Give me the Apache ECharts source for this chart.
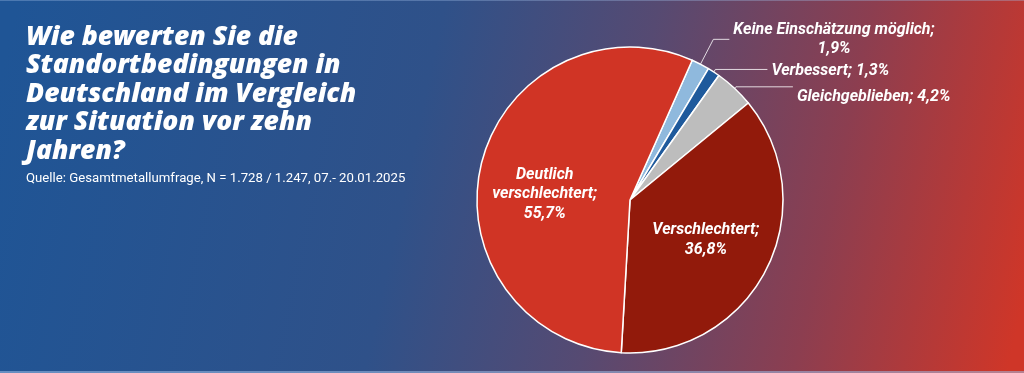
<!DOCTYPE html>
<html>
<head>
<meta charset="utf-8">
<script src="https://cdn.jsdelivr.net/npm/echarts@6/dist/echarts.min.js"></script>
<style>
html,body{margin:0;padding:0;width:1024px;height:373px;overflow:hidden;}
#c{width:1024px;height:373px;}
</style>
</head>
<body>
<div id="c"></div>
<script>
const titleText = 'Wie bewerten Sie die\nStandortbedingungen in\nDeutschland im Vergleich\nzur Situation vor zehn\nJahren?';
const sourceText = 'Quelle: Gesamtmetallumfrage, N = 1.728 / 1.247, 07.- 20.01.2025';
const categories = ['Keine Einschätzung möglich', 'Verbessert', 'Gleichgeblieben', 'Verschlechtert', 'Deutlich verschlechtert'];
const values = [1.9, 1.3, 4.2, 36.8, 55.7];
const colors = ['#8fb9dd', '#1f5a9c', '#bdbdbd', '#921a0b', '#d03425'];

const fmt = v => v.toFixed(1).replace('.', ',') + '%';
const labelFont = {color:'#fff', fontFamily:'Roboto', fontWeight:'bold', fontStyle:'italic', fontSize:16, lineHeight:19.5};

const itemLabel = [
  {position:'outside', formatter: p => '{c|' + p.name + ';}\n{c|' + fmt(p.value) + '}', lineLen:[28,16], dy:0},
  {position:'outside', formatter: p => p.name + '; ' + fmt(p.value), lineLen:[3,52], dy:2},
  {position:'outside', formatter: p => p.name + '; ' + fmt(p.value), lineLen:[2,57], dy:10},
  {position:'inside', formatter: p => p.name + ';\n' + fmt(p.value), offset:[5,4]},
  {position:'inside', formatter: 'Deutlich\nverschlechtert;\n' + fmt(values[4]), offset:[-8,13]}
];

const data = categories.map((c, i) => {
  const L = itemLabel[i];
  const d = {name:c, value:values[i], itemStyle:{color:colors[i]}};
  if (L.position === 'outside') {
    d.label = Object.assign({show:true, position:'outside', formatter:L.formatter, distanceToLabelLine:4,
      rich:{c:Object.assign({align:'center'}, labelFont)}}, labelFont);
    d.labelLine = {show:true, length:L.lineLen[0], length2:L.lineLen[1], lineStyle:{color:'rgba(255,255,255,0.8)', width:1}};
  } else {
    d.label = Object.assign({show:true, position:'inside', formatter:L.formatter, align:'center', offset:L.offset}, labelFont);
    d.labelLine = {show:false};
  }
  return d;
});

const chart = echarts.init(document.getElementById('c'), null, {renderer:'canvas'});
chart.setOption({
  backgroundColor: {type:'linear', x:0, y:0.2, x2:1, y2:0.8, colorStops:[
    {offset:0, color:'#1f5596'},
    {offset:0.4, color:'#2f5189'},
    {offset:0.6, color:'#564a72'},
    {offset:0.8, color:'#8c3e50'},
    {offset:1, color:'#cf3628'}
  ]},
  title: [
    {text:titleText, left:21, top:18, textStyle:{color:'#fff', fontFamily:'Open Sans', fontWeight:800, fontStyle:'italic', fontSize:26.5, lineHeight:28.5}},
    {text:sourceText, left:21, top:167, textStyle:{color:'#fff', fontFamily:'Roboto', fontWeight:'normal', fontSize:13.2}}
  ],
  graphic: [
    {type:'rect', left:0, bottom:0, shape:{width:1024, height:2}, style:{fill:'rgba(160,190,230,0.55)'}, silent:true},
    {type:'rect', left:0, top:0, shape:{width:1024, height:1}, style:{fill:'rgba(160,190,230,0.35)'}, silent:true}
  ],
  series: [{
    type:'pie',
    center:[630, 200],
    radius:[0, 153],
    startAngle:66,
    clockwise:true,
    avoidLabelOverlap:false,
    itemStyle:{borderColor:'#fff', borderWidth:1.5},
    emphasis:{disabled:true},
    labelLayout: function (p) {
      const L = itemLabel[p.dataIndex];
      return L.position === 'outside' ? {dy:L.dy} : {};
    },
    data:data
  }]
});
</script>
</body>
</html>
